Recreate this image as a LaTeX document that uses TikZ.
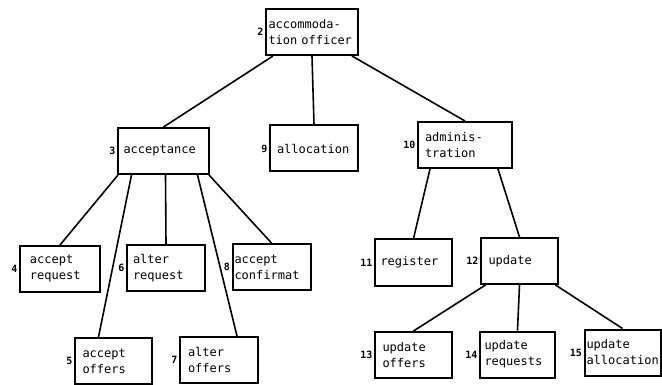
\documentclass[tikz,border=0pt]{standalone}
\usepackage{fontspec}
\setmonofont{DejaVu Sans Mono}
\begin{document}
\begin{tikzpicture}[x=1pt,y=-1pt,
  box/.style={draw, line width=2pt, align=left, inner sep=2pt,
    font=\ttfamily\fontsize{12}{16}\selectfont, minimum height=46pt},
  num/.style={font=\ttfamily\bfseries\fontsize{10}{10}\selectfont, inner sep=1.5pt},
  conn/.style={line width=1.6pt}]
\useasboundingbox (0,0) rectangle (662,385);
% level 0
\node[box, minimum width=92pt, text width=87pt, label={[num]left:2}] (n2) at (312,32) {accommoda-\\tion officer};
% level 1
\node[box, minimum width=91pt, text width=80pt, label={[num]left:3}] (n3) at (163.5,151) {acceptance};
\node[box, minimum width=88pt, text width=74pt, label={[num]left:9}] (n9) at (314,148.5) {allocation};
\node[box, minimum width=94pt, text width=80pt, label={[num]left:10}] (n10) at (465,145) {adminis-\\tration};
% level 2 left
\node[box, minimum width=80pt, text width=60pt, label={[num]left:4}] (n4) at (60,269) {accept\\request};
\node[box, minimum width=78pt, text width=66pt, label={[num]left:6}] (n6) at (166,268) {alter\\request};
\node[box, minimum width=77pt, text width=74pt, label={[num]left:8}] (n8) at (271.5,267) {accept\\confirmat};
\node[box, minimum width=77pt, text width=62pt, label={[num]left:5}] (n5) at (113.5,361) {accept\\offers};
\node[box, minimum width=78pt, text width=62pt, label={[num]left:7}] (n7) at (219,360) {alter\\offers};
% level 2 right
\node[box, minimum width=77pt, text width=66pt, label={[num]left:11}] (n11) at (413.5,262.5) {register};
\node[box, minimum width=77pt, text width=62pt, label={[num]left:12}] (n12) at (519.5,261) {update};
% level 3
\node[box, minimum width=77pt, text width=62pt, label={[num]left:13}] (n13) at (413.5,355) {update\\offers};
\node[box, minimum width=75pt, text width=66pt, label={[num]left:14}] (n14) at (517.5,354.5) {update\\requests};
\node[box, minimum width=75pt, text width=72pt, label={[num]left:15}] (n15) at (622.5,352.5) {update\\allocation};
% connectors
\draw[conn] ([xshift=-39pt]n2.south) -- (n3.north);
\draw[conn] (n2.south) -- (n9.north);
\draw[conn] ([xshift=40pt]n2.south) -- (n10.north);
\draw[conn] ([xshift=1pt]n3.south west) -- (n4.north);
\draw[conn] ([xshift=-32pt]n3.south) -- ([xshift=-15pt]n5.north);
\draw[conn] ([xshift=2pt]n3.south) -- (n6.north);
\draw[conn] ([xshift=34pt]n3.south) -- ([xshift=18pt]n7.north);
\draw[conn] ([xshift=-1pt]n3.south east) -- (n8.north);
\draw[conn] ([xshift=-35pt]n10.south) -- (n11.north);
\draw[conn] ([xshift=33pt]n10.south) -- (n12.north);
\draw[conn] ([xshift=-34pt]n12.south) -- (n13.north);
\draw[conn] (n12.south) -- (n14.north);
\draw[conn] ([xshift=36pt]n12.south) -- (n15.north);
\end{tikzpicture}
\end{document}
